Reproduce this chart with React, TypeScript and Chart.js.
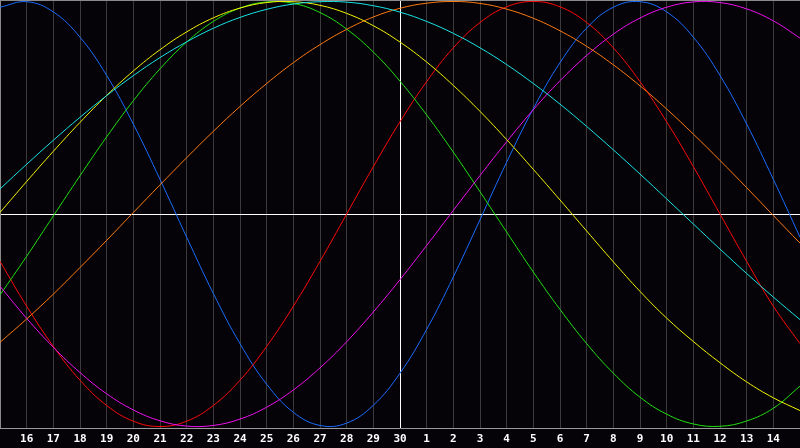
import { useEffect, useRef } from 'react';
import { Chart, registerables } from 'chart.js';

Chart.register(...registerables);

// day labels, from the 15th (left edge) to the 15th of next month (right edge)
const days = [
    '15', '16', '17', '18', '19', '20', '21', '22', '23', '24', '25', '26', '27', '28', '29', '30',
    '1', '2', '3', '4', '5', '6', '7', '8', '9', '10', '11', '12', '13', '14', '15',
];

const TODAY = 15; // index of "30"

const physical = [
    0.973, 0.999, 0.951, 0.832, 0.652, 0.423, 0.163, -0.109, -0.374, -0.61, -0.801,
    -0.933, -0.995, -0.984, -0.9, -0.749, -0.543, -0.296, -0.027, 0.244, 0.496,
    0.712, 0.875, 0.973, 0.999, 0.951, 0.832, 0.652, 0.423, 0.163, -0.109,
];
const emotional = [
    -0.223, -0.434, -0.623, -0.782, -0.901, -0.975, -1.0, -0.975, -0.901, -0.782, -0.623,
    -0.434, -0.223, 0.0, 0.223, 0.434, 0.623, 0.782, 0.901, 0.975, 1.0,
    0.975, 0.901, 0.782, 0.623, 0.434, 0.223, 0.0, -0.223, -0.434, -0.61,
];
const intellectual = [
    -0.381, -0.199, -0.009, 0.18, 0.363, 0.533, 0.683, 0.809, 0.906, 0.969, 0.998,
    0.991, 0.948, 0.87, 0.762, 0.625, 0.466, 0.291, 0.105, -0.085, -0.273,
    -0.449, -0.61, -0.749, -0.862, -0.942, -0.988, -0.999, -0.974, -0.914, -0.81,
];
const intuitive = [
    -0.34, -0.491, -0.627, -0.746, -0.846, -0.922, -0.973, -0.998, -0.995, -0.965, -0.909,
    -0.828, -0.724, -0.601, -0.461, -0.309, -0.148, 0.017, 0.181, 0.34, 0.491,
    0.627, 0.746, 0.846, 0.922, 0.973, 0.998, 0.995, 0.965, 0.909, 0.828,
];
const awareness = [
    -0.604, -0.494, -0.377, -0.252, -0.124, 0.007, 0.137, 0.265, 0.389, 0.506, 0.614,
    0.712, 0.797, 0.869, 0.927, 0.968, 0.992, 1.0, 0.991, 0.964, 0.921,
    0.862, 0.789, 0.702, 0.603, 0.494, 0.376, 0.252, 0.124, -0.007, -0.137,
];
const aesthetic = [
    0.007, 0.153, 0.295, 0.431, 0.558, 0.673, 0.773, 0.857, 0.923, 0.969, 0.995,
    0.999, 0.982, 0.944, 0.886, 0.809, 0.715, 0.605, 0.483, 0.35, 0.21,
    0.066, -0.08, -0.225, -0.364, -0.49, -0.6, -0.7, -0.79, -0.865, -0.925,
];
const spiritual = [
    0.118, 0.234, 0.347, 0.455, 0.557, 0.651, 0.736, 0.81, 0.874, 0.925, 0.963,
    0.988, 0.999, 0.997, 0.98, 0.95, 0.906, 0.85, 0.782, 0.703, 0.614,
    0.517, 0.412, 0.302, 0.188, 0.071, -0.047, -0.165, -0.28, -0.391, -0.497,
];

const series = [
    { label: 'Spiritual', data: spiritual, color: '#18e4e4' },
    { label: 'Aesthetic', data: aesthetic, color: '#f4f400' },
    { label: 'Awareness', data: awareness, color: '#ff7a10' },
    { label: 'Intuitive', data: intuitive, color: '#f010f0' },
    { label: 'Intellectual', data: intellectual, color: '#20e010' },
    { label: 'Emotional', data: emotional, color: '#ff0808' },
    { label: 'Physical', data: physical, color: '#1a6cff' },
];

const framePlugin = {
    id: 'frame',
    beforeDraw(chart: any) {
        const { ctx, width, height } = chart;
        ctx.save();
        ctx.fillStyle = '#050308';
        ctx.fillRect(0, 0, width, height);
        ctx.restore();
    },
    beforeDatasetsDraw(chart: any) {
        const { ctx, chartArea } = chart;
        const x = chart.scales.x;
        const y = chart.scales.y;
        ctx.save();
        ctx.lineWidth = 1;
        ctx.strokeStyle = '#ffffff';
        const tx = Math.round(x.getPixelForValue(TODAY)) + 0.5;
        const ty = Math.round(y.getPixelForValue(0)) + 0.5;
        ctx.beginPath();
        ctx.moveTo(tx, chartArea.top);
        ctx.lineTo(tx, chartArea.bottom);
        ctx.moveTo(chartArea.left, ty);
        ctx.lineTo(chartArea.right, ty);
        ctx.stroke();
        ctx.strokeStyle = '#8a8a8a';
        ctx.beginPath();
        ctx.moveTo(0, 0.5);
        ctx.lineTo(chartArea.right, 0.5);
        ctx.moveTo(0.5, 0);
        ctx.lineTo(0.5, chartArea.bottom);
        ctx.stroke();
        ctx.restore();
    },
};

export default function App() {
    const chartRef = useRef<HTMLCanvasElement>(null);
    const chartInstance = useRef<Chart | null>(null);

    useEffect(() => {
        document.body.style.margin = '0';
        document.body.style.background = '#050308';
        if (chartRef.current) {
            if (chartInstance.current) {
                chartInstance.current.destroy();
            }
            chartInstance.current = new Chart(chartRef.current, {
                type: 'line',
                data: {
                    labels: days,
                    datasets: series.map((s) => ({
                        label: s.label,
                        data: s.data,
                        borderColor: s.color,
                        borderWidth: 1,
                        pointRadius: 0,
                        tension: 0.4,
                        fill: false,
                    })),
                },
                options: {
                    animation: false,
                    responsive: false,
                    devicePixelRatio: 1,
                    layout: { padding: 0 },
                    plugins: {
                        legend: { display: false },
                        tooltip: { enabled: false },
                    },
                    scales: {
                        x: {
                            type: 'category',
                            offset: false,
                            grid: { color: '#3a3a3a', lineWidth: 1, drawTicks: false },
                            border: { display: true, color: '#9a9a9a' },
                            ticks: {
                                autoSkip: false,
                                maxRotation: 0,
                                minRotation: 0,
                                padding: 5,
                                color: '#ffffff',
                                font: { family: 'DejaVu Sans Mono', size: 11, weight: 'bold' },
                                callback: (_v: any, i: number) => (i === 0 || i === days.length - 1 ? '' : days[i]),
                            },
                            afterFit: (scale: any) => {
                                scale.height = 20;
                                scale.paddingLeft = 0;
                                scale.paddingRight = 0;
                            },
                        },
                        y: {
                            display: false,
                            min: -1.007,
                            max: 1.007,
                        },
                    },
                },
                plugins: [framePlugin],
            });
        }
        return () => {
            if (chartInstance.current) {
                chartInstance.current.destroy();
                chartInstance.current = null;
            }
        };
    }, []);

    return (
        <div style={{ width: 800, height: 448, background: '#050308' }}>
            <canvas ref={chartRef} width={800} height={448} style={{ display: 'block' }} />
        </div>
    );
}
